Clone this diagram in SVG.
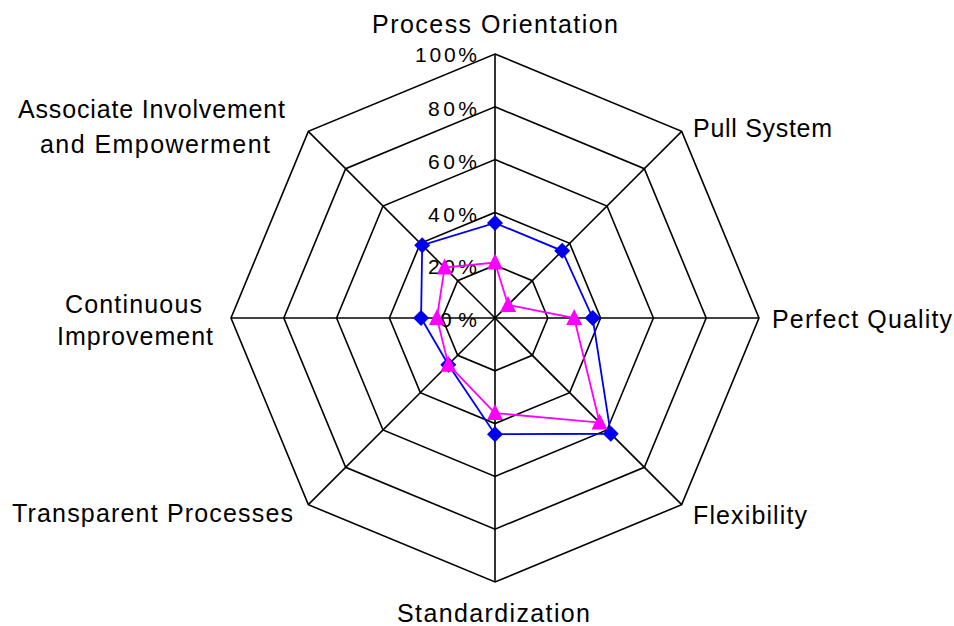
<svg xmlns="http://www.w3.org/2000/svg" width="954" height="626" viewBox="0 0 954 626">
<style>
.lbl{font-family:"Liberation Sans",Arial,sans-serif;font-size:25px;fill:#000}
.pct{font-family:"Liberation Sans",Arial,sans-serif;font-size:21px;fill:#000;text-anchor:end}
.ring{fill:none;stroke:#000;stroke-width:1.6}
.spoke{stroke:#000;stroke-width:1.6}
.blue{fill:none;stroke:#0000ee;stroke-width:1.8}
.mag{fill:none;stroke:#ff00ff;stroke-width:1.8}
</style>
<defs>
<path id="dia" d="M0,-8 L8,0 L0,8 L-8,0 Z" fill="#0000ee"/>
<path id="tri" d="M0,-9 L8,7 L-8,7 Z" fill="#ff00ff"/>
</defs>
<rect width="954" height="626" fill="#fff"/>
<g id="grid" transform="translate(495,318)">
<polygon class="ring" points="0,-264 186.68,-186.68 264,0 186.68,186.68 0,264 -186.68,186.68 -264,0 -186.68,-186.68"/>
<polygon class="ring" points="0,-211.2 149.34,-149.34 211.2,0 149.34,149.34 0,211.2 -149.34,149.34 -211.2,0 -149.34,-149.34"/>
<polygon class="ring" points="0,-158.4 112.01,-112.01 158.4,0 112.01,112.01 0,158.4 -112.01,112.01 -158.4,0 -112.01,-112.01"/>
<polygon class="ring" points="0,-105.6 74.67,-74.67 105.6,0 74.67,74.67 0,105.6 -74.67,74.67 -105.6,0 -74.67,-74.67"/>
<polygon class="ring" points="0,-52.8 37.34,-37.34 52.8,0 37.34,37.34 0,52.8 -37.34,37.34 -52.8,0 -37.34,-37.34"/>
<line class="spoke" x1="0" y1="0" x2="0" y2="-264"/>
<line class="spoke" x1="0" y1="0" x2="186.68" y2="-186.68"/>
<line class="spoke" x1="0" y1="0" x2="264" y2="0"/>
<line class="spoke" x1="0" y1="0" x2="186.68" y2="186.68"/>
<line class="spoke" x1="0" y1="0" x2="0" y2="264"/>
<line class="spoke" x1="0" y1="0" x2="-186.68" y2="186.68"/>
<line class="spoke" x1="0" y1="0" x2="-264" y2="0"/>
<line class="spoke" x1="0" y1="0" x2="-186.68" y2="-186.68"/>
</g>
<g id="scale">
<text class="pct" x="477" y="62" textLength="62" lengthAdjust="spacing">100%</text>
<text class="pct" x="477" y="116" textLength="49" lengthAdjust="spacing">80%</text>
<text class="pct" x="477" y="169" textLength="49" lengthAdjust="spacing">60%</text>
<text class="pct" x="477" y="222" textLength="49" lengthAdjust="spacing">40%</text>
<text class="pct" x="477" y="274" textLength="49" lengthAdjust="spacing">20%</text>
<text class="pct" x="477" y="327" textLength="37" lengthAdjust="spacing">0%</text>
</g>
<g id="series-blue" transform="translate(495,318)">
<polygon class="blue" points="0,-95.04 67.2,-67.2 97.68,0 115.74,115.74 0,116.16 -46.67,46.67 -73.92,0 -72.8,-72.8"/>
<use href="#dia" x="0" y="-95.04"/>
<use href="#dia" x="67.2" y="-67.2"/>
<use href="#dia" x="97.68" y="0"/>
<use href="#dia" x="115.74" y="115.74"/>
<use href="#dia" x="0" y="116.16"/>
<use href="#dia" x="-46.67" y="46.67"/>
<use href="#dia" x="-73.92" y="0"/>
<use href="#dia" x="-72.8" y="-72.8"/>
</g>
<g id="series-magenta" transform="translate(495,318)">
<polygon class="mag" points="0,-55.44 13.07,-13.07 79.2,0 104.54,104.54 0,95.04 -46.67,46.67 -58.08,0 -50.4,-50.4"/>
<use href="#tri" x="0" y="-55.44"/>
<use href="#tri" x="13.07" y="-13.07"/>
<use href="#tri" x="79.2" y="0"/>
<use href="#tri" x="104.54" y="104.54"/>
<use href="#tri" x="0" y="95.04"/>
<use href="#tri" x="-46.67" y="46.67"/>
<use href="#tri" x="-58.08" y="0"/>
<use href="#tri" x="-50.4" y="-50.4"/>
</g>
<g id="labels">
<g id="process-orientation"><text class="lbl" x="372" y="33" textLength="246" lengthAdjust="spacing">Process Orientation</text></g>
<g id="pull-system"><text class="lbl" x="693" y="137" textLength="139" lengthAdjust="spacing">Pull System</text></g>
<g id="perfect-quality"><text class="lbl" x="772" y="328" textLength="180" lengthAdjust="spacing">Perfect Quality</text></g>
<g id="flexibility"><text class="lbl" x="693" y="524" textLength="114" lengthAdjust="spacing">Flexibility</text></g>
<g id="standardization"><text class="lbl" x="397" y="622" textLength="193" lengthAdjust="spacing">Standardization</text></g>
<g id="transparent-processes"><text class="lbl" x="12" y="522" textLength="281" lengthAdjust="spacing">Transparent Processes</text></g>
<g id="continuous-improvement"><text class="lbl" x="65" y="313" textLength="137" lengthAdjust="spacing">Continuous</text><text class="lbl" x="57" y="345" textLength="156" lengthAdjust="spacing">Improvement</text></g>
<g id="associate-involvement"><text class="lbl" x="18" y="118" textLength="267" lengthAdjust="spacing">Associate Involvement</text><text class="lbl" x="40" y="153" textLength="230" lengthAdjust="spacing">and Empowerment</text></g>
</g>
</svg>
